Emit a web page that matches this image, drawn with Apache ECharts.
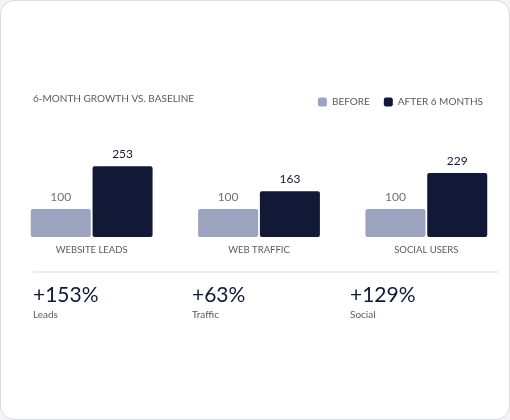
<!DOCTYPE html>
<html>
<head>
<meta charset="utf-8">
<script src="https://cdn.jsdelivr.net/npm/echarts@6/dist/echarts.min.js"></script>
<style>
  html, body { margin: 0; padding: 0; background: #f4f4f6; }
  #card { position: absolute; left: 0; top: 0; width: 508px; height: 418px; background: #fff;
          border: 1px solid #d9dbe0; border-radius: 14px; }
  #chart { width: 510px; height: 420px; position: absolute; left: 0; top: 0; }
</style>
</head>
<body>
<div id="card"></div>
<div id="chart"></div>
<script>
var categories = ['WEBSITE LEADS', 'WEB TRAFFIC', 'SOCIAL USERS'];
var beforeValues = [100, 100, 100];
var afterValues = [253, 163, 229];
var kpiValues = ['+153%', '+63%', '+129%'];
var kpiLabels = ['Leads', 'Traffic', 'Social'];
var kpiX = [33, 192, 350];

var font = 'Lato, "Noto Sans", sans-serif';
var myChart = echarts.init(document.getElementById('chart'));

var graphics = [
  { type: 'text', left: 33, top: 94, style: { text: '6-MONTH GROWTH VS. BASELINE', fill: '#555b66', font: '10px ' + font } },
  { type: 'line', shape: { x1: 33, y1: 272, x2: 498, y2: 272 }, style: { stroke: '#ececef', lineWidth: 2 } }
];
kpiValues.forEach(function(v, i) {
  graphics.push({ type: 'text', left: kpiX[i], top: 285, style: { text: v, fill: '#111936', font: '21px ' + font } });
  graphics.push({ type: 'text', left: kpiX[i], top: 310, style: { text: kpiLabels[i], fill: '#555b66', font: '10px ' + font } });
});

var option = {
  animation: false,
  grid: { left: 8, width: 514, top: 153, bottom: 183, containLabel: false },
  legend: {
    right: 22, top: 92, itemWidth: 9, itemHeight: 9, itemGap: 14,
    icon: 'roundRect',
    textStyle: { color: '#555b66', fontSize: 10, fontFamily: font },
    data: ['BEFORE', 'AFTER 6 MONTHS']
  },
  xAxis: {
    type: 'category', data: categories,
    axisLine: { show: false }, axisTick: { show: false },
    axisLabel: { color: '#555b66', fontSize: 9.5, fontFamily: font, margin: 8 }
  },
  yAxis: { type: 'value', min: 0, max: 300, show: false, splitLine: { show: false } },
  series: [
    {
      name: 'BEFORE', type: 'bar', data: beforeValues, barWidth: 60, barGap: '3%',
      itemStyle: { color: '#9ca3bf', borderRadius: 2 },
      label: { show: true, position: 'top', distance: 6, color: '#6b7080', fontSize: 12, fontFamily: font }
    },
    {
      name: 'AFTER 6 MONTHS', type: 'bar', data: afterValues, barWidth: 60,
      itemStyle: { color: '#111936', borderRadius: 2 },
      label: { show: true, position: 'top', distance: 6, color: '#111936', fontSize: 12, fontFamily: font }
    }
  ],
  graphic: graphics
};
myChart.setOption(option);
</script>
</body>
</html>
